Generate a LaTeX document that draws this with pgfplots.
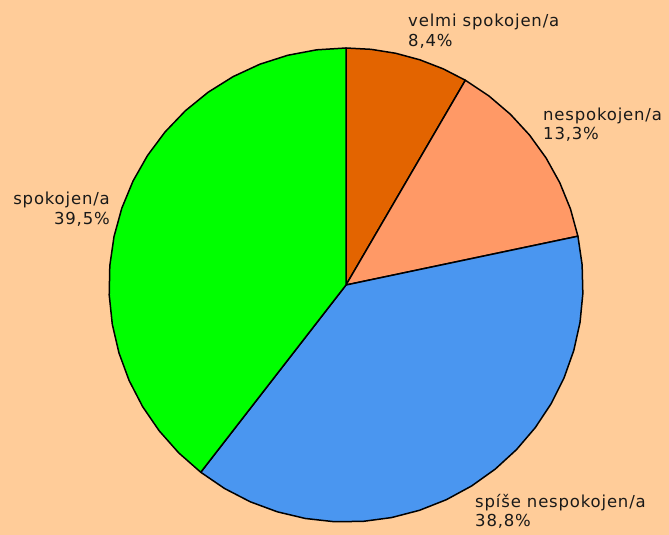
\documentclass[border=0pt]{standalone}
\usepackage{pgfplots}
\pgfplotsset{compat=1.18}
\usepackage{fontspec}
\setmainfont[LetterSpace=5]{DejaVu Sans}
\definecolor{bg}{RGB}{255,204,153}
\definecolor{c1}{RGB}{227,100,0}
\definecolor{c2}{RGB}{255,153,102}
\definecolor{c3}{RGB}{74,150,240}
\definecolor{c4}{RGB}{0,255,0}
\begin{document}
\begin{tikzpicture}
% shares in percent
\def\pA{8.4}\def\pB{13.3}\def\pC{38.8}\def\pD{39.5}
\pgfmathsetmacro{\R}{237}
\pgfmathsetmacro{\aA}{90}
\pgfmathsetmacro{\aB}{\aA-3.6*\pA}
\pgfmathsetmacro{\aC}{\aB-3.6*\pB}
\pgfmathsetmacro{\aD}{\aC-3.6*\pC}
\pgfmathsetmacro{\aE}{\aD-3.6*\pD}
\begin{axis}[scale only axis, width=669pt, height=535pt,
  xmin=-346, xmax=323, ymin=-250, ymax=285, hide axis, clip=false]
\addplot[fill=bg, draw=none] coordinates {(-346,-250) (323,-250) (323,285) (-346,285)} -- cycle;
\addplot[fill=c1, draw=black, line width=1.5pt, line join=round, domain=\aB:\aA, samples=6, variable=\t] ({\R*cos(\t)},{\R*sin(\t)}) -- (axis cs:0,0) -- cycle;
\addplot[fill=c2, draw=black, line width=1.5pt, line join=round, domain=\aC:\aB, samples=8, variable=\t] ({\R*cos(\t)},{\R*sin(\t)}) -- (axis cs:0,0) -- cycle;
\addplot[fill=c3, draw=black, line width=1.5pt, line join=round, domain=\aD:\aC, samples=21, variable=\t] ({\R*cos(\t)},{\R*sin(\t)}) -- (axis cs:0,0) -- cycle;
\addplot[fill=c4, draw=black, line width=1.5pt, line join=round, domain=\aE:\aD, samples=21, variable=\t] ({\R*cos(\t)},{\R*sin(\t)}) -- (axis cs:0,0) -- cycle;
\begin{scope}[font=\fontsize{16.5}{20}\selectfont, text=black!90]
\node[anchor=base west, inner sep=0] at (axis cs:62,258) {velmi spokojen/a};
\node[anchor=base west, inner sep=0] at (axis cs:62,238) {8,4\%};
\node[anchor=base west, inner sep=0] at (axis cs:197,164) {nespokojen/a};
\node[anchor=base west, inner sep=0] at (axis cs:197,145) {13,3\%};
\node[anchor=base east, inner sep=0] at (axis cs:-236,80) {spokojen/a};
\node[anchor=base east, inner sep=0] at (axis cs:-236,60) {39,5\%};
\node[anchor=base west, inner sep=0] at (axis cs:129,-223) {spíše nespokojen/a};
\node[anchor=base west, inner sep=0] at (axis cs:129,-242) {38,8\%};
\end{scope}
\end{axis}
\end{tikzpicture}
\end{document}
